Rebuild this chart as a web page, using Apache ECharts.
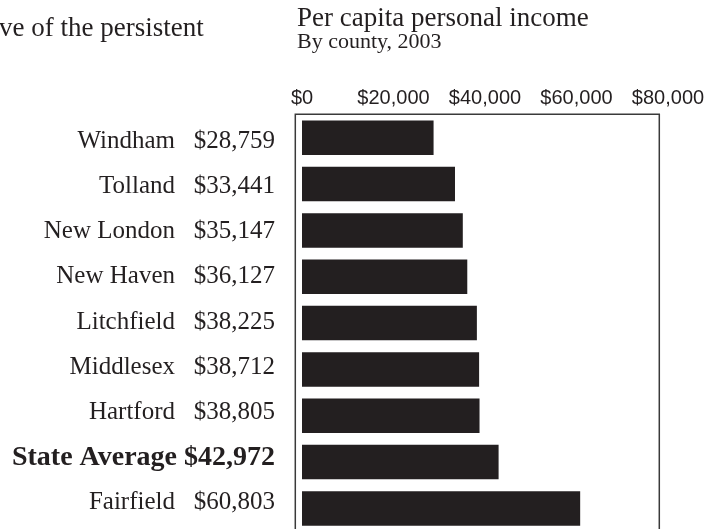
<!DOCTYPE html>
<html>
<head>
<meta charset="utf-8">
<script src="https://cdn.jsdelivr.net/npm/echarts@6/dist/echarts.min.js"></script>
<style>
  html, body { margin: 0; padding: 0; background: #fff; }
  #chart { width: 719px; height: 529px; }
</style>
</head>
<body>
<div id="chart"></div>
<script>
// Per capita personal income by Connecticut county, 2003
const counties = ['Windham', 'Tolland', 'New London', 'New Haven', 'Litchfield',
                  'Middlesex', 'Hartford', 'State Average', 'Fairfield'];
const incomes = [28759, 33441, 35147, 36127, 38225, 38712, 38805, 42972, 60803];
const highlighted = 'State Average';
const tickValues = [0, 20000, 40000, 60000, 80000];

const titleText = 'Per capita personal income';
const subtitleText = 'By county, 2003';
const bodyFragment = 've of the persistent';

const INK = '#231f20';
const SERIF = '"Liberation Serif", "Times New Roman", serif';
const SANS = '"Liberation Sans", Arial, sans-serif';

const money = v => '$' + String(v).replace(/\B(?=(\d{3})+(?!\d))/g, ',');

const chart = echarts.init(document.getElementById('chart'), null, { renderer: 'canvas' });

chart.setOption({
  animation: false,
  backgroundColor: '#fff',
  graphic: [
    { type: 'text', x: -1, y: 29.2, silent: true,
      style: { text: bodyFragment, font: '27px ' + SERIF, fill: INK, verticalAlign: 'middle' } },
    { type: 'text', x: 297, y: 19.2, silent: true,
      style: { text: titleText, font: '27px ' + SERIF, fill: INK, verticalAlign: 'middle' } },
    { type: 'text', x: 297, y: 42, silent: true,
      style: { text: subtitleText, font: '22px ' + SERIF, fill: INK, verticalAlign: 'middle' } }
  ],
  grid: [
    // bars: nine rows, 46.33 px apart, the last one running to the bottom edge
    { left: 302, width: 366, top: 114.6, height: 417, outerBoundsMode: 'none' },
    // frame around the bars, open past the bottom edge
    { left: 295.3, width: 364, top: 114.3, height: 460, outerBoundsMode: 'none', show: true,
      backgroundColor: 'transparent', borderColor: '#3a3a3a', borderWidth: 1.5 },
    // row labels
    { left: 295, width: 364, top: 119, height: 406.1, outerBoundsMode: 'none' }
  ],
  xAxis: [
    { gridIndex: 0, type: 'value', position: 'top',
      min: tickValues[0], max: tickValues[tickValues.length - 1],
      interval: tickValues[1] - tickValues[0],
      axisLine: { show: false }, axisTick: { show: false }, splitLine: { show: false },
      axisLabel: { formatter: money, fontFamily: SANS, fontSize: 20, color: INK,
                   margin: 16, verticalAlign: 'middle' } },
    { gridIndex: 1, type: 'value', show: false, min: 0, max: 1 },
    { gridIndex: 2, type: 'value', show: false, min: 0, max: 1 }
  ],
  yAxis: [
    { gridIndex: 0, type: 'category', inverse: true, data: counties,
      axisLine: { show: false }, axisTick: { show: false }, axisLabel: { show: false },
      splitLine: { show: false } },
    { gridIndex: 1, type: 'category', show: false, data: counties },
    { gridIndex: 2, type: 'category', inverse: true, data: counties,
      axisLine: { show: false }, axisTick: { show: false }, splitLine: { show: false },
      axisLabel: {
        margin: 20, align: 'right', verticalAlign: 'middle',
        formatter: (name, i) => name === highlighted
          ? '{b|' + name + ' ' + money(incomes[i]) + '}'
          : '{n|' + name + '}{v|' + money(incomes[i]) + '}',
        rich: {
          n: { fontFamily: SERIF, fontSize: 25, color: INK },
          v: { fontFamily: SERIF, fontSize: 25, color: INK, width: 100, align: 'right' },
          b: { fontFamily: SERIF, fontSize: 28, fontWeight: 'bold', color: INK }
        }
      } }
  ],
  series: [
    { type: 'bar', xAxisIndex: 0, yAxisIndex: 0, data: incomes, barWidth: 34.5,
      itemStyle: { color: INK }, silent: true }
  ]
});
</script>
</body>
</html>
